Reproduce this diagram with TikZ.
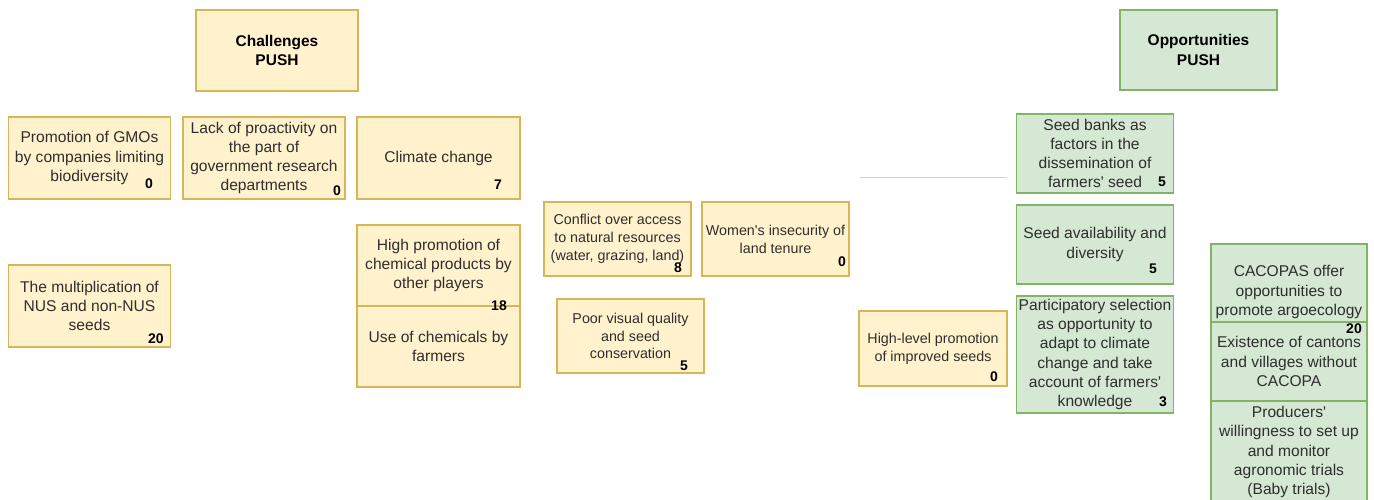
\documentclass[tikz,border=0pt]{standalone}
\usepackage{fontspec}
\setmainfont{Liberation Sans}[Ligatures=TeXOff]
\definecolor{chfill}{HTML}{FFF2CC}
\definecolor{chline}{HTML}{D6B656}
\definecolor{opfill}{HTML}{D5E8D4}
\definecolor{opline}{HTML}{82B366}
\definecolor{ink}{HTML}{2E2E2E}
\definecolor{rule}{HTML}{E9D38E}
\begin{document}
\begin{tikzpicture}[x=1pt,y=-1pt,
  box/.style={draw, line width=1.3pt, inner sep=0pt, text=ink, align=center,
    font=\fontsize{15.6}{19.2}\selectfont},
  chbox/.style={box, fill=chfill, draw=chline},
  opbox/.style={box, fill=opfill, draw=opline},
  small/.style={font=\fontsize{14.3}{17.8}\selectfont},
  head/.style={text=black, font=\bfseries\fontsize{15.5}{19.5}\selectfont},
  plain/.style={inner sep=0pt, text=ink, align=center, font=\fontsize{15.6}{19.2}\selectfont},
  score/.style={inner sep=0pt, text=black, font=\bfseries\fontsize{14}{14}\selectfont},
  sz/.style 2 args={minimum width=#1, minimum height=#2}
]
\useasboundingbox (0,0) rectangle (1374,500);
\clip (0,0) rectangle (1374,500);

% headings
\node[chbox, head, sz={162pt}{81pt}] (chal) at (277,50.5) {Challenges\\PUSH};
\node[opbox, head, sz={157pt}{80pt}] (opp) at (1198.5,50) {Opportunities\\PUSH};

% challenges, first row
\node[chbox, sz={162pt}{82pt}] (gmo) at (89.5,158) {Promotion of GMOs\\by companies limiting\\biodiversity};
\node[chbox, sz={162pt}{82pt}] (lack) at (264,158) {Lack of proactivity on\\the part of\\government research\\departments};
\node[chbox, sz={163pt}{82pt}] (clim) at (438.5,158) {Climate change};

% challenges, lower rows
\node[chbox, sz={162pt}{82pt}] (nus) at (89.5,306) {The multiplication of\\NUS and non-NUS\\seeds};
\node[chbox, sz={163pt}{81pt}] (chem) at (438.5,265.5) {High promotion of\\chemical products by\\other players};
\node[chbox, sz={163pt}{81pt}] (use) at (438.5,346.5) {Use of chemicals by\\farmers};

\node[chbox, small, sz={147pt}{74pt}] (confl) at (617.5,239) {Conflict over access\\to natural resources\\(water, grazing, land)};
\node[chbox, small, sz={147pt}{74pt}] (women) at (775.5,239) {Women's insecurity of\\land tenure};
\node[chbox, small, sz={147pt}{74pt}] (poor) at (630.5,336) {Poor visual quality\\and seed\\conservation};
\node[chbox, small, sz={148pt}{75pt}] (hlp) at (933,348.5) {High-level promotion\\of improved seeds};

% thin rule left of the seed banks
\coordinate (rs) at (860,178);
\coordinate (re) at (1007,178);
\draw[rule, line width=1pt] (rs) -- (re);

% opportunities
\node[opbox, sz={157pt}{79pt}] (bank) at (1095,153.5) {Seed banks as\\factors in the\\dissemination of\\farmers' seed};
\node[opbox, sz={157pt}{79pt}] (avail) at (1095,244.5) {Seed availability and\\diversity};
\node[opbox, sz={157pt}{117pt}] (part) at (1095,354.5) {Participatory selection\\as opportunity to\\adapt to climate\\change and take\\account of farmers'\\knowledge};

\node[opbox, sz={156pt}{78pt}] (cac) at (1289,283) {};
\node[plain] (cact) at (1289,292) {CACOPAS offer\\opportunities to\\promote argoecology};
\node[opbox, sz={156pt}{79pt}] (cant) at (1289,361.5) {Existence of cantons\\and villages without\\CACOPA};
\node[opbox, sz={156pt}{102pt}] (prod) at (1289,452) {Producers'\\willingness to set up\\and monitor\\agronomic trials\\(Baby trials)};

% scores
\node[score] (s-gmo) at (149,184) {0};
\node[score] (s-lack) at (337,191) {0};
\node[score] (s-clim) at (498,185) {7};
\node[score] (s-nus) at (156,339) {20};
\node[score] (s-chem) at (499,306) {18};
\node[score] (s-confl) at (678,268) {8};
\node[score] (s-women) at (842,262) {0};
\node[score] (s-poor) at (684,366) {5};
\node[score] (s-hlp) at (994,377) {0};
\node[score] (s-bank) at (1162,182) {5};
\node[score] (s-avail) at (1153,269) {5};
\node[score] (s-part) at (1163,402) {3};
\node[score] (s-cac) at (1354,329) {20};
\end{tikzpicture}
\end{document}
